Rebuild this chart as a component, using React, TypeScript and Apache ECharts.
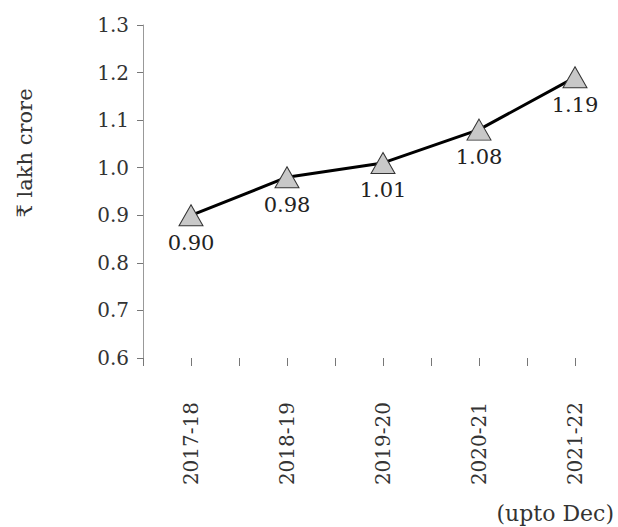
import React, { useEffect, useRef } from "react";
import * as echarts from "echarts";

const categories = ["2017-18", "2018-19", "2019-20", "2020-21", "2021-22"];
const values = [0.9, 0.98, 1.01, 1.08, 1.19];
const valueLabels = ["0.90", "0.98", "1.01", "1.08", "1.19"];
const yTicks = { min: 0.6, max: 1.3, interval: 0.1 };
const yAxisName = "₹ lakh crore";
const footnote = "(upto Dec)";

const FONT = "'DejaVu Serif', 'Liberation Serif', serif";

export default function App() {
  const ref = useRef<HTMLDivElement>(null);
  useEffect(() => {
    if (!ref.current) return;
    const chart = echarts.init(ref.current, null, { renderer: "svg" });
    chart.setOption({
      animation: false,
      backgroundColor: "#ffffff",
      grid: { left: 143, right: 43, top: 25, bottom: 169, containLabel: false },
      xAxis: {
        type: "value",
        min: -0.5,
        max: 4,
        interval: 0.5,
        axisLine: { show: false, onZero: false },
        axisTick: { show: true, length: 8, lineStyle: { color: "#777", width: 1 } },
        splitLine: { show: false },
        axisLabel: {
          rotate: 90,
          margin: 44,
          fontFamily: FONT,
          fontSize: 20,
          color: "#333",
          showMinLabel: true,
          showMaxLabel: true,
          formatter: (v: number) => {
            const r = Math.round(v);
            return Math.abs(v - r) < 1e-6 && r >= 0 && r < categories.length ? categories[r] : "";
          },
        },
      },
      yAxis: {
        type: "value",
        min: yTicks.min,
        max: yTicks.max,
        interval: yTicks.interval,
        axisLine: { show: true, onZero: false, lineStyle: { color: "#999", width: 1 } },
        axisTick: { show: true, length: 6, lineStyle: { color: "#777", width: 1 } },
        splitLine: { show: false },
        axisLabel: {
          margin: 14,
          fontFamily: FONT,
          fontSize: 20,
          color: "#333",
          formatter: (v: number) => v.toFixed(1),
        },
      },
      series: [
        {
          type: "line",
          data: values.map((v, i) => [i, v]),
          clip: false,
          lineStyle: { color: "#000", width: 3 },
          symbol: "triangle",
          symbolSize: [24, 21],
          itemStyle: { color: "#c8c8c8", borderColor: "#333", borderWidth: 1 },
          label: {
            show: true,
            position: "bottom",
            distance: 6,
            fontFamily: FONT,
            fontSize: 21,
            color: "#222",
            formatter: (p: any) => valueLabels[p.dataIndex],
          },
          z: 3,
        },
      ],
      graphic: [
        {
          type: "text",
          x: 25,
          y: 153,
          rotation: Math.PI / 2,
          style: {
            text: yAxisName,
            fontFamily: FONT,
            fontSize: 21,
            fill: "#333",
            align: "center",
            verticalAlign: "middle",
          },
        },
        {
          type: "text",
          x: 614,
          y: 513,
          style: {
            text: footnote,
            fontFamily: FONT,
            fontSize: 22,
            fill: "#333",
            align: "right",
            verticalAlign: "middle",
          },
        },
      ],
    });
    return () => chart.dispose();
  }, []);
  return (
    <div
      ref={ref}
      style={{ position: "fixed", left: 0, top: 0, width: 618, height: 527 }}
    />
  );
}
